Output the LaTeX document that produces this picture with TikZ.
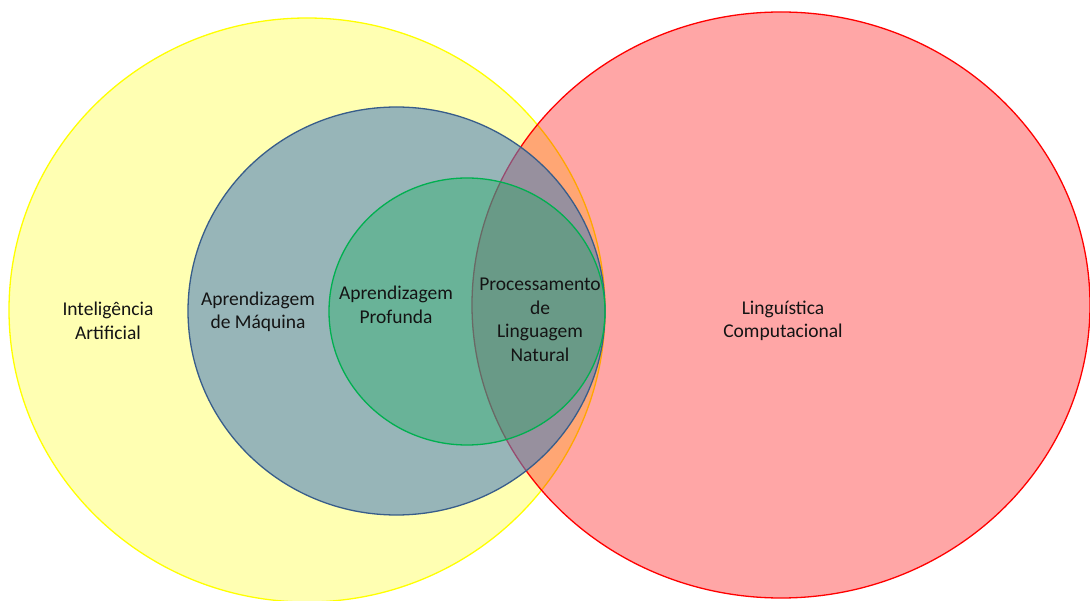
\documentclass[tikz,border=0pt]{standalone}
\usepackage{fontspec}
\setmainfont{Carlito}
\definecolor{iaYellow}{RGB}{255,255,0}
\definecolor{lcRed}{RGB}{255,0,0}
\definecolor{amBlue}{RGB}{79,129,189}
\definecolor{amLine}{RGB}{56,93,138}
\definecolor{apGreen}{RGB}{0,176,80}
\definecolor{txt}{RGB}{20,20,20}
\tikzset{
  venn/.style={line width=1.3pt},
  lbl/.style={align=center,text=txt,font=\fontsize{19.5}{23.5}\selectfont}
}
\begin{document}
\begin{tikzpicture}[x=1pt,y=-1pt]
\useasboundingbox (0,0) rectangle (1090,601);

% conjuntos
\draw[venn,draw=iaYellow,fill=iaYellow,fill opacity=0.3] (307,310) ellipse [x radius=298pt,y radius=292pt];
\draw[venn,draw=lcRed,fill=lcRed,fill opacity=0.35] (781,305) ellipse [x radius=309pt,y radius=293pt];
\draw[venn,draw=amLine,fill=amBlue,fill opacity=0.59] (396.5,311) ellipse [x radius=208.5pt,y radius=204pt];
\draw[venn,draw=apGreen,fill=apGreen,fill opacity=0.3] (467,311.5) ellipse [x radius=138pt,y radius=133.5pt];

% rotulos
\node[lbl] (ia) at (108,321) {Inteligência\\Artificial};
\node[lbl] (am) at (258,312) {Aprendizagem\\de Máquina};
\node[lbl] (ap) at (396,305) {Aprendizagem\\Profunda};
\node[lbl] (pln) at (540,320) {Processamento\\de\\Linguagem\\Natural};
\node[lbl] (lc) at (783,321) {Linguística\\Computacional};
\end{tikzpicture}
\end{document}
